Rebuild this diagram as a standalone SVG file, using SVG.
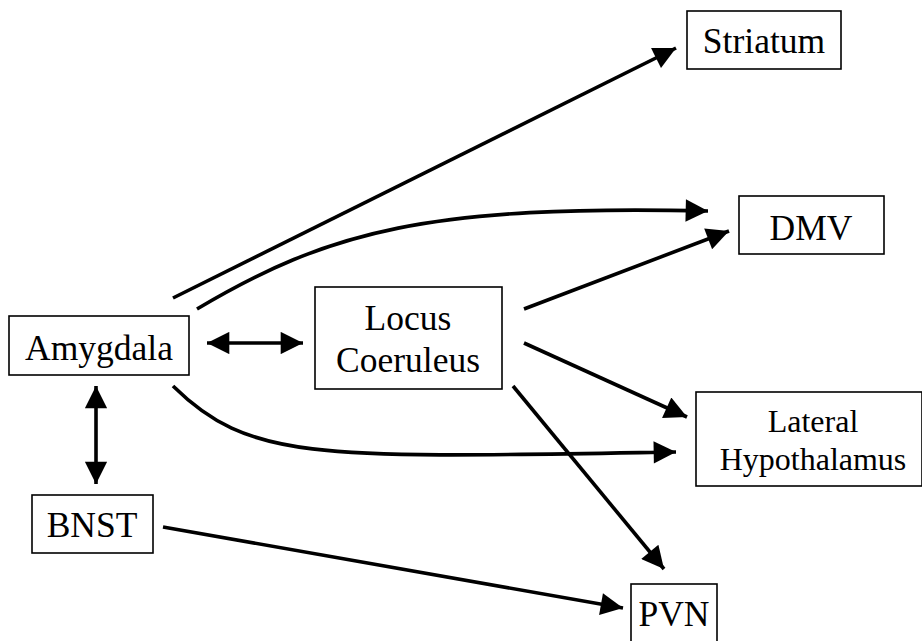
<svg xmlns="http://www.w3.org/2000/svg" width="922" height="641" viewBox="0 0 922 641">
<defs>
<style>
.box{fill:#fff;stroke:#000;stroke-width:1.6}
.lbl{font-family:"Liberation Serif","Times New Roman",serif;font-size:35.5px;fill:#000;text-anchor:middle}
.lbl2{font-family:"Liberation Serif","Times New Roman",serif;font-size:32px;fill:#000;text-anchor:middle}
.c{fill:none;stroke:#000;stroke-width:3.6}
</style>
<marker id="ah" viewBox="0 0 10 10" refX="10" refY="5" markerWidth="7.2" markerHeight="6.2" markerUnits="strokeWidth" orient="auto-start-reverse">
<path d="M0,0 L10,5 L0,10 z" fill="#000"/>
</marker>
</defs>
<rect width="922" height="641" fill="#fff"/>
<g id="connectors">
<path class="c" d="M173,298 L676,48" marker-end="url(#ah)"/>
<path class="c" d="M197,309 C330,230 430,205 708,211" marker-end="url(#ah)"/>
<path class="c" d="M524,309 L729,231" marker-end="url(#ah)"/>
<path class="c" d="M524,343 L687,417" marker-end="url(#ah)"/>
<path class="c" d="M513,386 L664,569" marker-end="url(#ah)"/>
<path class="c" d="M173,386 C250,462 320,458 676,452" marker-end="url(#ah)"/>
<path class="c" d="M163,527 L623,608" marker-end="url(#ah)"/>
<path class="c" d="M207,343 L303,343" marker-start="url(#ah)" marker-end="url(#ah)"/>
<path class="c" d="M96,386 L96,484" marker-start="url(#ah)" marker-end="url(#ah)"/>
</g>
<g id="amygdala"><rect class="box" x="9" y="316" width="180" height="59"/><text class="lbl" x="99" y="360">Amygdala</text></g>
<g id="locus-coeruleus"><rect class="box" x="315" y="287" width="187" height="102"/><text class="lbl" x="408" y="330">Locus</text><text class="lbl" x="408" y="372">Coeruleus</text></g>
<g id="striatum"><rect class="box" x="687" y="11" width="154" height="58"/><text class="lbl" x="764" y="53">Striatum</text></g>
<g id="dmv"><rect class="box" x="739" y="196" width="145" height="58"/><text class="lbl" x="811" y="240">DMV</text></g>
<g id="lateral-hypothalamus"><rect class="box" x="696" y="392" width="226" height="94"/><text class="lbl2" x="813" y="432">Lateral</text><text class="lbl2" x="813" y="470">Hypothalamus</text></g>
<g id="bnst"><rect class="box" x="32" y="495" width="121" height="58"/><text class="lbl" x="92" y="537">BNST</text></g>
<g id="pvn"><rect class="box" x="631" y="584" width="86" height="60"/><text class="lbl" x="674" y="626">PVN</text></g>
</svg>
